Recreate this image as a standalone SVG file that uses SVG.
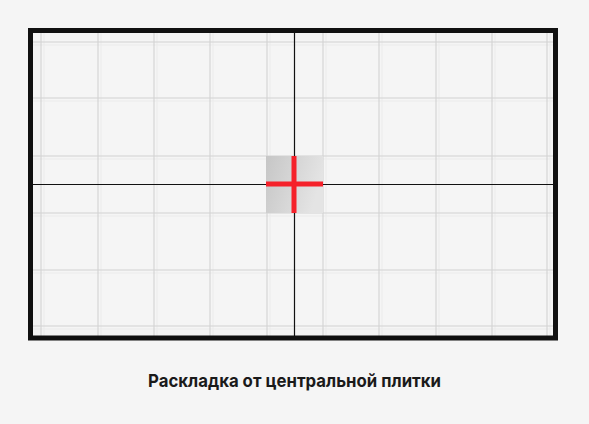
<svg xmlns="http://www.w3.org/2000/svg" width="589" height="424" viewBox="0 0 589 424">
  <defs>
    <linearGradient id="tileGrad" x1="0" y1="0" x2="1" y2="0.3">
      <stop offset="0" stop-color="#c6c6c6"/>
      <stop offset="1" stop-color="#e4e4e4"/>
    </linearGradient>
  </defs>
  <style>
    .grid { stroke: #d2d2d2; stroke-width: 1.1; fill: none; }
    .grout { stroke: #ebebeb; stroke-width: 1; fill: none; }
    .axis { stroke: #111111; stroke-width: 1.2; fill: none; }
    .cross { stroke: #f5212a; stroke-width: 5; fill: none; }
    .frame { stroke: #111111; stroke-width: 5; fill: none; }
    .caption { font-family: "Inter", "Open Sans", "Liberation Sans", sans-serif; font-weight: 700; font-size: 18px; fill: #1a1a1a; }
  </style>
  <rect x="0" y="0" width="589" height="424" fill="#f5f5f5"/>
  <g id="grid">
    <g class="grout">
      <path d="M44 33V336M101 33V336M157 33V336M213 33V336M270 33V336M326 33V336M382 33V336M439 33V336M495 33V336M550 33V336"/>
      <path d="M33 45H553M33 101H553M33 159H553M33 216H553M33 273H553M33 329H553"/>
    </g>
    <g class="grid">
      <path d="M41 33V336M98 33V336M154 33V336M210 33V336M267 33V336M323 33V336M379 33V336M436 33V336M492 33V336M547 33V336"/>
      <path d="M33 42H553M33 98H553M33 156H553M33 213H553M33 270H553M33 326H553"/>
    </g>
  </g>
  <g id="tile">
    <rect x="266" y="156" width="57" height="57" fill="url(#tileGrad)"/>
  </g>
  <g id="connectors">
    <path class="axis" d="M294.5 33V336"/>
    <path class="axis" d="M33 184.5H553"/>
  </g>
  <g id="center-cross">
    <path class="cross" d="M294 156V213"/>
    <path class="cross" d="M266 184H323"/>
  </g>
  <g id="frame">
    <rect class="frame" x="30.5" y="30.5" width="525" height="307.5"/>
  </g>
  <g id="caption">
    <text class="caption" x="148" y="387" textLength="293" lengthAdjust="spacingAndGlyphs">Раскладка от центральной плитки</text>
  </g>
</svg>
